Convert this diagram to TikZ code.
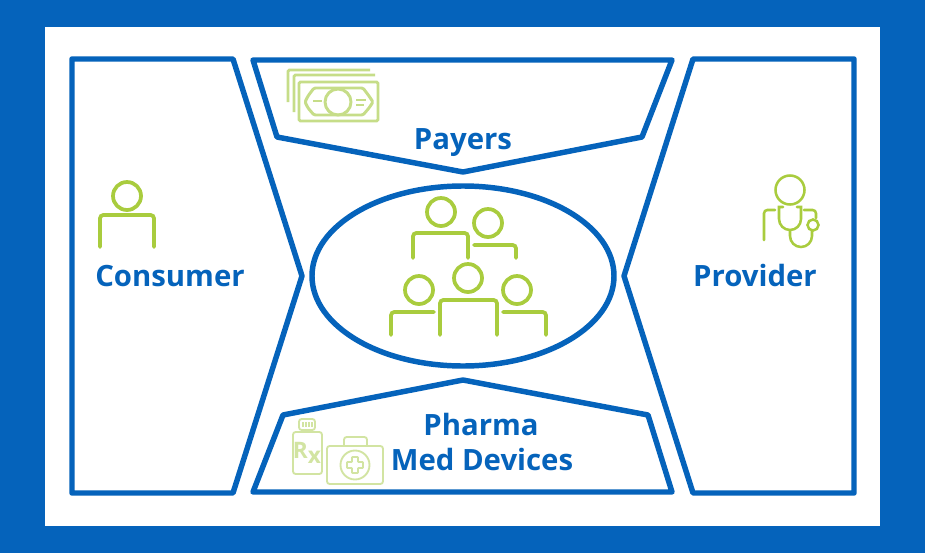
\documentclass[tikz,border=0pt]{standalone}
\usepackage{fontspec}
\setmainfont{Open Sans}
\usetikzlibrary{shapes.geometric}
\definecolor{hubblue}{HTML}{0563BB}
\definecolor{icongreen}{HTML}{A9CC3E}
\definecolor{billgreen}{HTML}{C6DD88}
\definecolor{kitgreen}{HTML}{D2E4A2}
\tikzset{
    panel/.style={draw=hubblue, line width=4.1pt, line join=round},
    label/.style={text=hubblue, font=\bfseries\fontsize{22}{22}\selectfont, inner sep=0pt},
    icon/.style={draw=icongreen, line width=2.8pt, line cap=round, rounded corners=2.5pt},
    bill/.style={draw=billgreen, line width=2.2pt, rounded corners=1pt},
    kit/.style={draw=kitgreen, line width=1.4pt, rounded corners=2pt},
}
\begin{document}
\begin{tikzpicture}[x=0.75pt, y=-0.75pt]
\useasboundingbox (0,0) rectangle (925,553);
\fill[hubblue] (0,0) rectangle (925,553);
\fill[white] (45,27) rectangle (880,526);

% outer shapes
\draw[panel] (72,59) -- (233,59) -- (302,276) -- (233,493) -- (72,493) -- cycle;
\draw[panel] (854,59) -- (693,59) -- (624,276) -- (693,493) -- (854,493) -- cycle;
\draw[panel] (253,60) -- (672,60) -- (642,137) -- (463,172) -- (277,137) -- cycle;
\draw[panel] (253,492) -- (283,415) -- (463,380) -- (648,415) -- (672,492) -- cycle;
\draw[panel] (463,276) ellipse [x radius=151, y radius=90];

\node[label] (consumer) at (170,276) {Consumer};
\node[label] (provider) at (755,275) {Provider};
\node[label] (payers) at (463,143) {Payers};
\node[label] (pharma) at (481,424) {Pharma};
\node[label] (meddev) at (482,459) {Med Devices};

% consumer
\draw[icon] (127,196) circle (14);
\draw[icon] (100,247) -- (100,215) -- (154,215) -- (154,247);

% crowd in the middle
\foreach \cx/\cy in {441/212, 488/223, 468/278, 419/290, 517/290}
    \draw[icon] (\cx,\cy) circle (14);
\draw[icon] (413,258) -- (413,233) -- (468,233) -- (468,258);
\draw[icon] (474,245) -- (516,245) -- (516,258);
\draw[icon] (440,335) -- (440,300) -- (497,300) -- (497,335);
\draw[icon] (434,312) -- (391,312) -- (391,335);
\draw[icon] (503,312) -- (546,312) -- (546,335);

% provider
\begin{scope}[icon, line width=1.9pt]
\draw (790,190) circle (14.5);
\draw (764,240) -- (764,210) -- (775,210);
\draw (804,210) -- (816,210) -- (816,218);
\draw[rounded corners=0pt] (783,207) -- (779,207) -- (779,219) arc (180:0:11) -- (801,207) -- (797,207);
\draw[rounded corners=0pt] (790,230) -- (790,236) arc (180:0:11) -- (812,231);
\draw (813,225) circle (5.5);
\end{scope}

% money
\draw[bill] (288,102) -- (288,70) -- (370,70);
\draw[bill] (294,112) -- (294,75) -- (375,75);
\draw[bill] (299,82) rectangle (378,121);
\draw[bill, line join=round] (314,88) -- (363,88) -- (369,96) -- (373,102) -- (369,108) -- (363,115) -- (314,115) -- (308,108) -- (305,102) -- (308,96) -- cycle;
\draw[bill] (338,102) circle (13);
\draw[bill, rounded corners=0pt] (313,101) -- (322,101);
\draw[bill, rounded corners=0pt] (356,100) -- (366,100);
\draw[bill, rounded corners=0pt] (356,105) -- (364,105);

% pharma and kit
\draw[kit] (299,419) rectangle (315,430);
\foreach \tx in {303,306,309,312}
    \draw[kitgreen, line width=0.8pt] (\tx,422) -- (\tx,427);
\draw[kit] (293,432) rectangle (322,474);
\node[text=kitgreen, font=\bfseries\fontsize{17}{17}\selectfont, inner sep=0pt] (rx) at (307,453) {R\raisebox{-.35ex}{x}};
\draw[kit] (327,446) rectangle (383,484);
\draw[kit] (344,446) -- (344,437) -- (367,437) -- (367,446);
\draw[kit] (355,465) circle (14.5);
\draw[kit, rounded corners=0.5pt] (352,457) -- (358,457) -- (358,462) -- (363,462) -- (363,468) -- (358,468) -- (358,473) -- (352,473) -- (352,468) -- (347,468) -- (347,462) -- (352,462) -- cycle;
\end{tikzpicture}
\end{document}
